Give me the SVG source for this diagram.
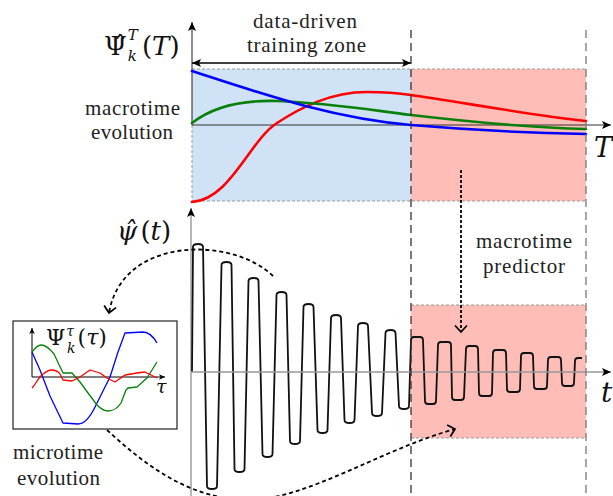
<svg xmlns="http://www.w3.org/2000/svg" width="613" height="496" viewBox="0 0 613 496">
<style>
text{font-family:"Liberation Serif","DejaVu Serif",serif}
.lbl{font-size:21px;fill:#222;text-anchor:middle}
.m{fill:#111;font-family:"DejaVu Serif","Liberation Serif",serif}
.it{font-style:italic}
.zone{stroke:#999;stroke-width:1;stroke-dasharray:3,2}
.blue{fill:#cfe2f6}
.pink{fill:#ffbdb8}
.ax{fill:none;stroke:#333;stroke-width:1.1}
.axg{fill:none;stroke:#999;stroke-width:1.4}
.vd{fill:none;stroke-width:1.3;stroke-dasharray:8,5}
.dash{fill:none;stroke:#000;stroke-width:1.8;stroke-dasharray:4,3}
.dot{fill:none;stroke:#000;stroke-width:1.8;stroke-dasharray:3,2}
.c{fill:none;stroke-width:2.6;stroke-linecap:round;stroke-linejoin:round}
.ci{fill:none;stroke-width:1.3;stroke-linejoin:round}
.sig{fill:none;stroke:#111;stroke-width:1.8;stroke-linejoin:round}
</style>
<defs>
<marker id="ah" viewBox="-11 -6 13 12" refX="0" refY="0" markerWidth="13" markerHeight="12" markerUnits="userSpaceOnUse" orient="auto-start-reverse">
<path d="M-9,-4 L0,0 L-9,4 L-7,0 Z" fill="#000"/>
</marker>
<marker id="ahs" viewBox="-8 -4 10 8" refX="0" refY="0" markerWidth="10" markerHeight="8" markerUnits="userSpaceOnUse" orient="auto">
<path d="M-6,-2.8 L0,0 L-6,2.8 L-4.5,0 Z" fill="#000"/>
</marker>
<marker id="oa" viewBox="-10 -9 13 18" refX="0" refY="0" markerWidth="13" markerHeight="18" markerUnits="userSpaceOnUse" orient="auto">
<path d="M-6.5,-6 L0,0 L-6.5,6" fill="none" stroke="#000" stroke-width="1.8"/>
</marker>
</defs>

<g id="macro-plot">
<rect class="blue" x="192" y="69" width="219" height="132"/>
<rect class="pink" x="411" y="69" width="175" height="132"/>
<path class="zone" d="M192,69 H586 M192,201 H586 M192,125 V201"/>
<line class="ax" x1="192" y1="125" x2="192" y2="22" marker-end="url(#ah)"/>
<line class="ax" x1="192" y1="125" x2="611" y2="125" marker-end="url(#ah)"/>
<path class="c" stroke="#ff0000" d="M192,202 C230,200 250,140 277,123 C300,108 330,92 367,92 C385,92 398,93 411,95 C460,102 530,115 586,121"/>
<path class="c" stroke="#0a800a" d="M192,123 C215,105 245,100 277,101 C330,103 370,110 411,115 C480,123 540,128 586,129"/>
<path class="c" stroke="#0000ff" d="M192,71 C260,93 330,118 411,125 C470,130 530,133 586,134"/>
<text class="m" x="104" y="55" font-size="26">Ψ̂<tspan font-size="15" font-style="italic" dx="1" dy="-15">T</tspan><tspan font-size="15" font-style="italic" dx="-10" dy="21">k</tspan><tspan dx="5" dy="-6">(</tspan><tspan class="it">T</tspan>)</text>
<text class="m it" x="594" y="157" font-size="27">T</text>
</g>

<g id="training-zone">
<line x1="192" y1="63" x2="411" y2="63" stroke="#000" stroke-width="1.5" marker-start="url(#ah)" marker-end="url(#ah)"/>
<text class="lbl" x="305" y="28" textLength="104">data-driven</text>
<text class="lbl" x="306.5" y="52" textLength="119">training zone</text>
</g>

<g id="macrotime-evolution">
<text class="lbl" x="132.5" y="115" textLength="95">macrotime</text>
<text class="lbl" x="132" y="139" textLength="82">evolution</text>
</g>

<g id="signal-plot">
<rect class="pink" x="411" y="305" width="175" height="133"/>
<path class="zone" d="M411,305 H586 M411,438 H586"/>
<line class="axg" x1="191" y1="496" x2="191" y2="208" marker-end="url(#ah)"/>
<path class="sig" d="M192,372 L193,247 C193,243 203,243 203,247 L207,486 C207,490 217,490 217,486 L221.5,265 C221.5,261 231.5,261 231.5,265 L234.5,469 C234.5,473 244.5,473 244.5,469 L248.5,281 C248.5,277 258.5,277 258.5,281 L262.5,454 C262.5,458 272.5,458 272.5,454 L276.5,295 C276.5,291 286.5,291 286.5,295 L290,441 C290,445 300,445 300,441 L303.5,307 C303.5,303 313.5,303 313.5,307 L317.5,430 C317.5,434 327.5,434 327.5,430 L331,318 C331,314 341,314 341,318 L344.5,420 C344.5,424 354.5,424 354.5,420 L358,326 C358,322 368,322 368,326 L372,413 C372,417 382,417 382,413 L385.5,333 C385.5,329 395.5,329 395.5,333 L399,406 C399,410 409,410 409,406 L411,340 Q411,337 414,337 L420,337 Q423,337 423,340 L425,401 Q425,404 428,404 L433,404 Q436,404 436,401 L438,345 Q438,342 441,342 L448,342 Q451,342 451,345 L452,397 Q452,400 455,400 L461,400 Q464,400 464,397 L466,349 Q466,346 469,346 L475,346 Q478,346 478,349 L479,393 Q479,396 482,396 L489,396 Q492,396 492,393 L493,353 Q493,350 496,350 L503,350 Q506,350 506,353 L507,389 Q507,392 510,392 L517,392 Q520,392 520,389 L521,356 Q521,353 524,353 L530,353 Q533,353 533,356 L534,386 Q534,389 537,389 L544,389 Q547,389 547,386 L548,360 Q548,357 551,357 L558,357 Q561,357 561,360 L562,383 Q562,386 565,386 L571,386 Q574,386 574,383 L575,361 Q575,358 578,358 L582,358"/>
<line class="axg" x1="191" y1="372" x2="611" y2="372" marker-end="url(#ah)"/>
<text class="m" x="117" y="240" font-size="26"><tspan class="it">ψ̂</tspan><tspan dx="3">(</tspan><tspan class="it">t</tspan>)</text>
<text class="m it" x="601" y="402" font-size="28">t</text>
</g>

<g id="vertical-guides">
<line class="vd" x1="411" y1="30" x2="411" y2="496" stroke="#333"/>
<line class="vd" x1="586" y1="30" x2="586" y2="496" stroke="#777"/>
</g>

<g id="macrotime-predictor">
<text class="lbl" x="524" y="248" textLength="96">macrotime</text>
<text class="lbl" x="524" y="273" textLength="82">predictor</text>
</g>

<g id="micro-inset">
<rect x="13" y="321" width="164" height="108" fill="#fff" stroke="#222" stroke-width="1.2"/>
<line x1="32" y1="377" x2="32" y2="328" stroke="#000" stroke-width="1" marker-end="url(#ahs)"/>
<line x1="32" y1="377" x2="165" y2="377" stroke="#000" stroke-width="1" marker-end="url(#ahs)"/>
<path class="ci" stroke="#0000ff" d="M32,352 L40,370 L50,396 L63,423 L78,424 C84,424 90,418 96,405 L110,377 L118,352 L125,333 L143,332 C148,332 153,336 157,343"/>
<path class="ci" stroke="#0a800a" d="M32,352 C35,348 38,345 41,345 C46,345 50,349 54,354 L63,373 L72,373 L80,382 L88,393 L97,405 C101,409 104,411 108,411 C113,411 117,409 121,403 L126,390 L128,388 L137,387 L147,378 L157,362"/>
<path class="ci" stroke="#ff0000" d="M32,388 C36,384 38,378 42,375 C46,372 48,370 51,370 C55,370 58,371 60,374 L63,380 L72,381 L80,377 L90,370 L100,373 L107,378 L115,382 L125,375 L137,373 L145,372 L157,378"/>
<text class="m" x="46" y="345" font-size="22">Ψ<tspan font-size="14" font-style="italic" dx="1" dy="-9">τ</tspan><tspan font-size="14" font-style="italic" dx="-7" dy="17">k</tspan><tspan dx="2" dy="-8">(</tspan><tspan class="it">τ</tspan>)</text>
<text class="m it" x="156" y="393" font-size="19">τ</text>
</g>

<g id="microtime-evolution">
<text class="lbl" x="58" y="459" textLength="90">microtime</text>
<text class="lbl" x="58.5" y="485" textLength="83">evolution</text>
</g>

<g id="connectors">
<path class="dash" d="M273,276 C232,236 122,236 109,313" marker-end="url(#oa)"/>
<path class="dash" d="M107,430 C145,465 190,500 250,500 C310,498 380,450 455,429" marker-end="url(#oa)"/>
<path class="dot" d="M461,170 L461,332" marker-end="url(#oa)"/>
</g>
</svg>
